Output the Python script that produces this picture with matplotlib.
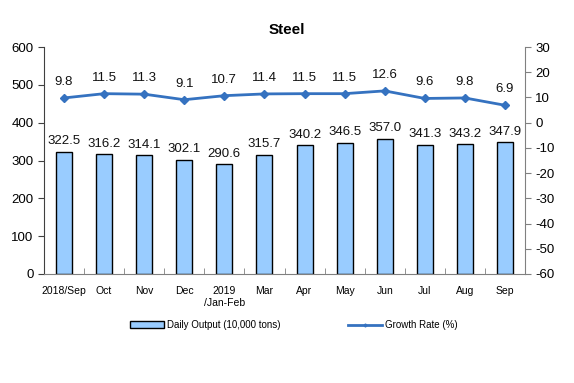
import matplotlib
matplotlib.use("Agg")
import matplotlib.pyplot as plt
from matplotlib.lines import Line2D
from matplotlib.patches import Patch
import numpy as np

categories = ["2018/Sep", "Oct", "Nov", "Dec", "2019\n/Jan-Feb", "Mar", "Apr", "May", "Jun", "Jul", "Aug", "Sep"]
daily_output = [322.5, 316.2, 314.1, 302.1, 290.6, 315.7, 340.2, 346.5, 357.0, 341.3, 343.2, 347.9]
growth_rate = [9.8, 11.5, 11.3, 9.1, 10.7, 11.4, 11.5, 11.5, 12.6, 9.6, 9.8, 6.9]

plt.rcParams['font.family'] = ['Liberation Sans', 'DejaVu Sans']
plt.rcParams['axes.unicode_minus'] = False

fig = plt.figure(figsize=(5.74, 3.83), dpi=100)
ax = fig.add_axes([44/574, 1-274/383, (525-44)/574, (274-47)/383])
ax2 = ax.twinx()

x = np.arange(len(categories))
bar_color = "#99CCFF"
line_color = "#3572C0"

ax.bar(x, daily_output, width=0.4, color=bar_color, edgecolor="black", linewidth=1.0, zorder=2)
for xi, v in zip(x, daily_output):
    ax.text(xi, v + 12, f"{v:.1f}", ha="center", va="bottom", fontsize=9.5, color="#111111")

ax2.plot(x, growth_rate, color=line_color, linewidth=2, marker="D", markersize=4.5, zorder=3)
for xi, v in zip(x, growth_rate):
    ax2.text(xi, v + 4, f"{v:.1f}", ha="center", va="bottom", fontsize=9.5, color="#111111")

ax.set_xlim(-0.5, len(categories) - 0.5)
ax.set_ylim(0, 600)
ax.set_yticks(range(0, 601, 100))
ax2.set_ylim(-60, 30)
ax2.set_yticks(range(-60, 31, 10))

ax.set_xticks(x)
ax.set_xticklabels(categories, fontsize=7.5)
ax.tick_params(axis="x", length=0, pad=9)
ax.set_xticks(np.arange(-0.5, len(categories), 1), minor=True)
ax.tick_params(axis="x", which="minor", direction="in", length=4, color="#808080")
ax.tick_params(axis="y", labelsize=9.5, direction="out", length=4, color="#404040")
ax2.tick_params(axis="y", labelsize=9.5, direction="out", length=4, color="#808080")

for s in ["top"]:
    ax.spines[s].set_visible(False)
    ax2.spines[s].set_visible(False)
ax.spines["right"].set_visible(False)
ax2.spines["left"].set_visible(False)
ax.spines["left"].set_color("#404040")
ax.spines["bottom"].set_color("#808080")
ax2.spines["bottom"].set_visible(False)
ax2.spines["right"].set_color("#808080")

fig.text(287/574, 1-30/383, "Steel", ha="center", va="center", fontsize=11, fontweight="bold")

handles1 = [Patch(facecolor=bar_color, edgecolor="black", linewidth=1.0)]
fig.legend(handles1, ["Daily Output (10,000 tons)"], loc="center", bbox_to_anchor=(205/574, 1-325/383),
           frameon=False, fontsize=7, handlelength=3.5, handleheight=0.8, handletextpad=0.3)
handles2 = [Line2D([0], [0], color=line_color, linewidth=2, marker="D", markersize=1.5)]
fig.legend(handles2, ["Growth Rate (%)"], loc="center", bbox_to_anchor=(403/574, 1-325/383),
           frameon=False, fontsize=7, handlelength=3.5, handletextpad=0.3)

fig.savefig("out.png", dpi=100)
